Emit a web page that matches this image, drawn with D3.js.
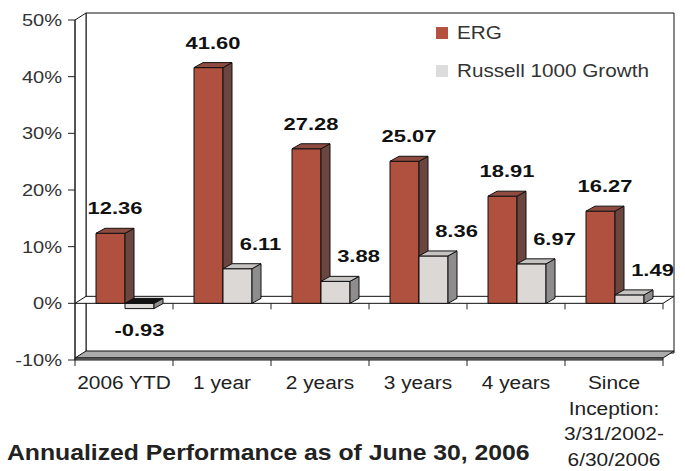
<!DOCTYPE html>
<html>
<head>
<meta charset="utf-8">
<script src="https://cdn.jsdelivr.net/npm/d3@7"></script>
<style>
  body { margin: 0; background: #fff; }
  text { font-family: "Liberation Sans", Arial, sans-serif; }
</style>
</head>
<body>
<svg width="685" height="471"></svg>
<script>
// data
var categories = ["2006 YTD", "1 year", "2 years", "3 years", "4 years", "Since Inception"];
var categoryLines = [["2006 YTD"], ["1 year"], ["2 years"], ["3 years"], ["4 years"],
                     ["Since", "Inception:", "3/31/2002-", "6/30/2006"]];
var series = ["ERG", "Russell 1000 Growth"];
var ergValues = [12.36, 41.60, 27.28, 25.07, 18.91, 16.27];
var russellValues = [-0.93, 6.11, 3.88, 8.36, 6.97, 1.49];
var yTicks = [-10, 0, 10, 20, 30, 40, 50];

var svg = d3.select("svg");
svg.append("rect").attr("width", 685).attr("height", 471).attr("fill", "#fff");

var y = d3.scaleLinear().domain([-10, 50]).range([360, 20]);
var x0 = d3.scaleBand().domain(categories).range([75, 663]);
var x1 = d3.scaleBand().domain(series).range([21, 79]);

var wdx = 11, wdy = -7;   // wall depth
var bdx = 9, bdy = -5;    // bar depth
var left = 75, right = 663;

var colors = {
  "ERG": {front: "#b0503e", side: "#6b4640", top: "#8f4b40"},
  "Russell 1000 Growth": {front: "#dbd8d6", side: "#8e8c8c", top: "#c6c3c1"}
};

function poly(g, pts, fill, stroke) {
  return g.append("polygon")
    .attr("points", pts.map(function(p) { return p.join(","); }).join(" "))
    .attr("fill", fill)
    .attr("stroke", stroke || "#111")
    .attr("stroke-width", 1)
    .attr("stroke-linejoin", "round");
}

function txt(g, str, x, yy, size, weight, anchor, sx, fill) {
  return g.append("text")
    .attr("transform", "translate(" + x + "," + yy + ") scale(" + sx + ",1)")
    .attr("font-size", size)
    .attr("font-weight", weight)
    .attr("text-anchor", anchor)
    .attr("fill", fill || "#222")
    .text(str);
}

// walls
var walls = svg.append("g");
poly(walls, [[left + wdx, y(50) + wdy], [right + wdx, y(50) + wdy], [right + wdx, y(-10) + wdy], [left + wdx, y(-10) + wdy]], "#fff");
poly(walls, [[left, y(50)], [left + wdx, y(50) + wdy], [left + wdx, y(-10) + wdy], [left, y(-10)]], "#fff");
// floor
poly(walls, [[left, y(-10) - 2], [right, y(-10) - 2], [right + wdx, y(-10) + wdy - 2], [left + wdx, y(-10) + wdy - 2]], "#ababab");
poly(walls, [[left, y(-10) - 2], [right, y(-10) - 2], [right, y(-10)], [left, y(-10)]], "#8a8a8a");
// zero plane
poly(walls, [[left, y(0)], [right, y(0)], [right + wdx, y(0) + wdy], [left + wdx, y(0) + wdy]], "#fff");

// axes
var axes = svg.append("g").attr("stroke", "#222").attr("stroke-width", 1);
axes.append("line").attr("x1", left).attr("x2", left).attr("y1", y(50)).attr("y2", y(-10));
yTicks.forEach(function(t) {
  axes.append("line").attr("x1", left - 7).attr("x2", left).attr("y1", y(t)).attr("y2", y(t));
});
var bounds = categories.map(function(c) { return x0(c); }).concat([right]);
bounds.forEach(function(b, i) {
  if (i > 0) axes.append("line").attr("x1", b).attr("x2", b).attr("y1", y(0)).attr("y2", y(0) + 6);
  axes.append("line").attr("x1", b).attr("x2", b).attr("y1", y(-10)).attr("y2", y(-10) + 6);
});

// y tick labels
var yl = svg.append("g");
yTicks.forEach(function(t) {
  txt(yl, t + "%", 62, y(t) + 6, 17, "normal", "end", 1.18, "#333");
});

// bars
var bars = svg.append("g");
categories.forEach(function(c, i) {
  [[series[0], ergValues[i]], [series[1], russellValues[i]]].forEach(function(s) {
    var name = s[0], v = s[1], col = colors[name];
    var xa = x0(c) + x1(name), xb = xa + x1.bandwidth();
    var yt = y(Math.max(v, 0)), yb = y(Math.min(v, 0));
    poly(bars, [[xa, yb], [xb, yb], [xb, yt], [xa, yt]], col.front);
    poly(bars, [[xb, yb], [xb + bdx, yb + bdy], [xb + bdx, yt + bdy], [xb, yt]], col.side);
    poly(bars, [[xa, yt], [xb, yt], [xb + bdx, yt + bdy], [xa + bdx, yt + bdy]], v < 0 ? "#111" : col.top);
  });
});

// value labels
var vl = svg.append("g");
categories.forEach(function(c, i) {
  var xe = x0(c) + x1(series[0]) + x1.bandwidth() / 2 + bdx / 2;
  txt(vl, ergValues[i].toFixed(2), xe, y(ergValues[i]) - 19, 17, "bold", "middle", 1.29, "#111");
  var rv = russellValues[i];
  var xr = x0(c) + x1(series[1]) + x1.bandwidth() / 2 + (rv < 0 ? 0 : 23);
  var yr = rv < 0 ? y(rv) + 27 : y(rv) - 19;
  txt(vl, rv.toFixed(2), xr, yr, 17, "bold", "middle", 1.29, "#111");
});

// category labels
var cl = svg.append("g");
categories.forEach(function(c, i) {
  categoryLines[i].forEach(function(line, j) {
    txt(cl, line, x0(c) + x0.bandwidth() / 2, 389 + j * 25.7, 18, "normal", "middle", 1.16, "#222");
  });
});

// legend
var lg = svg.append("g");
series.forEach(function(s, i) {
  lg.append("rect").attr("x", 436).attr("y", 27 + i * 38).attr("width", 12).attr("height", 12)
    .attr("fill", i === 0 ? "#b5523f" : "#dcdcdc");
  txt(lg, s, 457, 39 + i * 38, 18, "normal", "start", 1.15, "#333");
});

// title
var title = txt(svg, "Annualized Performance as of June 30, 2006", 0, 460, 22, "bold", "start", 1, "#222");
var tw = title.node().getComputedTextLength();
title.attr("transform", "translate(7,460) scale(" + (523 / tw) + ",1)");
</script>
</body>
</html>
